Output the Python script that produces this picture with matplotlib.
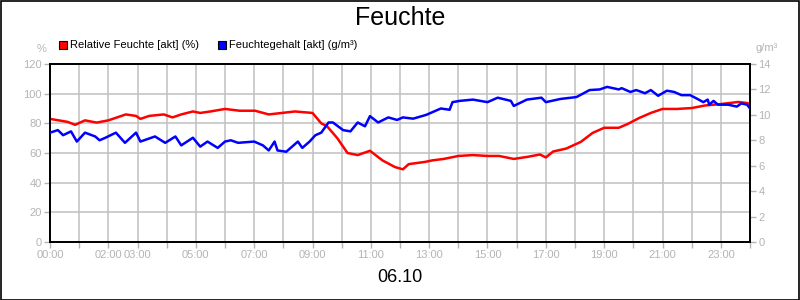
import matplotlib
matplotlib.use("Agg")
import matplotlib.pyplot as plt
from matplotlib.patches import Rectangle

# Relative Feuchte (%), left axis
rf_hours = [0.0, 0.3, 0.6, 0.86, 1.2, 1.6, 2.0, 2.3, 2.6, 2.95, 3.1, 3.4, 3.9, 4.2, 4.5,
            4.9, 5.15, 5.5, 6.0, 6.5, 7.03, 7.5, 7.95, 8.4, 9.0, 9.3, 9.5, 9.85, 10.2,
            10.55, 10.97, 11.4, 11.83, 12.1, 12.3, 12.86, 13.1, 13.5, 14.0, 14.5, 15.0,
            15.4, 15.9, 16.4, 16.8, 17.0, 17.25, 17.7, 18.2, 18.6, 19.0, 19.5, 19.8,
            20.2, 20.6, 21.0, 21.5, 22.0, 22.45, 23.0, 23.6, 23.9, 24.0]
rf_values = [83, 82, 81, 79, 82, 80.5, 82, 84, 86, 85, 83, 85, 86, 84, 86,
             88, 87, 88, 89.7, 88.5, 88.5, 86, 87, 88, 87, 80, 78, 70, 60,
             58.6, 61.5, 55, 50.5, 49, 52.5, 54, 55, 56, 58, 58.6, 58,
             58, 56, 57.5, 59, 57, 61, 63, 67.5, 73.5, 77, 77, 79.5,
             83.6, 87, 89.7, 89.7, 90.3, 92, 93, 94.4, 93.7, 93]

# Feuchtegehalt (g/m³), right axis
fg_hours = [0.0, 0.27, 0.45, 0.72, 0.92, 1.2, 1.55, 1.7, 1.9, 2.26, 2.57, 2.95, 3.1, 3.6,
            3.95, 4.3, 4.5, 4.9, 5.15, 5.4, 5.75, 6.0, 6.2, 6.45, 7.0, 7.3, 7.5, 7.7,
            7.8, 8.1, 8.5, 8.65, 8.9, 9.1, 9.3, 9.55, 9.7, 10.05, 10.3, 10.55, 10.8,
            10.97, 11.25, 11.6, 11.9, 12.1, 12.45, 12.9, 13.4, 13.7, 13.8, 14.05, 14.5,
            15.0, 15.35, 15.8, 15.9, 16.35, 16.85, 17.0, 17.5, 18.05, 18.5, 18.85,
            19.1, 19.5, 19.6, 19.9, 20.1, 20.4, 20.6, 20.85, 21.15, 21.4, 21.65,
            21.95, 22.2, 22.4, 22.55, 22.6, 22.75, 22.9, 23.25, 23.55, 23.7, 23.9, 24.0]
fg_values = [8.6, 8.8, 8.4, 8.7, 7.9, 8.6, 8.3, 8.0, 8.2, 8.6, 7.8, 8.6, 7.9, 8.3,
             7.8, 8.3, 7.6, 8.2, 7.5, 7.9, 7.4, 7.9, 8.0, 7.8, 7.9, 7.6, 7.2, 7.9,
             7.2, 7.1, 7.9, 7.4, 7.9, 8.4, 8.6, 9.4, 9.4, 8.8, 8.7, 9.4, 9.1,
             9.9, 9.4, 9.8, 9.6, 9.8, 9.7, 10.0, 10.5, 10.4, 11.0, 11.1, 11.2,
             11.0, 11.35, 11.1, 10.7, 11.2, 11.35, 11.0, 11.25, 11.4, 11.95, 12.0,
             12.2, 12.0, 12.1, 11.8, 11.95, 11.7, 11.95, 11.5, 11.9, 11.8, 11.55,
             11.55, 11.25, 11.0, 11.2, 10.8, 11.1, 10.8, 10.8, 10.65, 10.9, 10.8, 10.5]

x_tick_hours = [0, 2, 3, 5, 7, 9, 11, 13, 15, 17, 19, 21, 23]
x_tick_labels = ["00:00", "02:00", "03:00", "05:00", "07:00", "09:00", "11:00",
                 "13:00", "15:00", "17:00", "19:00", "21:00", "23:00"]

GRAY = "#b4b4b4"
plt.rcParams["font.family"] = ["Liberation Sans", "DejaVu Sans"]

fig = plt.figure(figsize=(8, 3), dpi=100)
ax = fig.add_axes([50 / 800, 58 / 300, 700 / 800, 178 / 300])
ax2 = ax.twinx()

ax.plot(rf_hours, rf_values, color="#ff0000", lw=1.8, zorder=3)
ax2.plot(fg_hours, fg_values, color="#0000ff", lw=1.8, zorder=3)

ax.set_xlim(0, 24)
ax.set_ylim(0, 120)
ax2.set_ylim(0, 14)
ax.set_yticks(range(0, 121, 20))
ax2.set_yticks(range(0, 15, 2))
ax.set_xticks(range(0, 25), minor=False)
ax.set_xticklabels([x_tick_labels[x_tick_hours.index(h)] if h in x_tick_hours else ""
                    for h in range(0, 25)])

ax.grid(True, color="#c0c0c0", lw=1.1, zorder=0)
for a in (ax, ax2):
    for s in a.spines.values():
        s.set_color("black")
        s.set_linewidth(1.3)
    a.tick_params(colors=GRAY, labelcolor=GRAY, labelsize=8, length=4, width=1)
ax.tick_params(axis="x", pad=2)
ax.tick_params(axis="y", pad=2)
ax2.tick_params(axis="y", pad=2)

# axis unit labels
fig.text(42 / 800, 1 - 49 / 300, "%", color=GRAY, fontsize=8, ha="center", va="center")
fig.text(767 / 800, 1 - 48 / 300, "g/m³", color=GRAY, fontsize=8, ha="center", va="center")

# legend
fig.patches.append(Rectangle((59 / 800, 1 - 49 / 300), 8 / 800, 8 / 300, transform=fig.transFigure,
                             facecolor="#ff0000", edgecolor="black", lw=0.8))
fig.text(70 / 800, 1 - 44.5 / 300, "Relative Feuchte [akt] (%)", fontsize=8, va="center")
fig.patches.append(Rectangle((218 / 800, 1 - 49 / 300), 8 / 800, 8 / 300, transform=fig.transFigure,
                             facecolor="#0000ff", edgecolor="black", lw=0.8))
fig.text(229 / 800, 1 - 44.5 / 300, "Feuchtegehalt [akt] (g/m³)", fontsize=8, va="center")

fig.text(0.5, 1 - 18 / 300, "Feuchte", fontsize=18, ha="center", va="center")
fig.text(0.5, 1 - 277 / 300, "06.10", fontsize=13, ha="center", va="center")

# frame around the whole picture
fig.patches.append(Rectangle((0.5 / 800, 0.5 / 300), 798.5 / 800, 298.5 / 300, transform=fig.transFigure,
                             fill=False, edgecolor="black", lw=1.2))

fig.savefig("out.png", dpi=100, facecolor="white")
